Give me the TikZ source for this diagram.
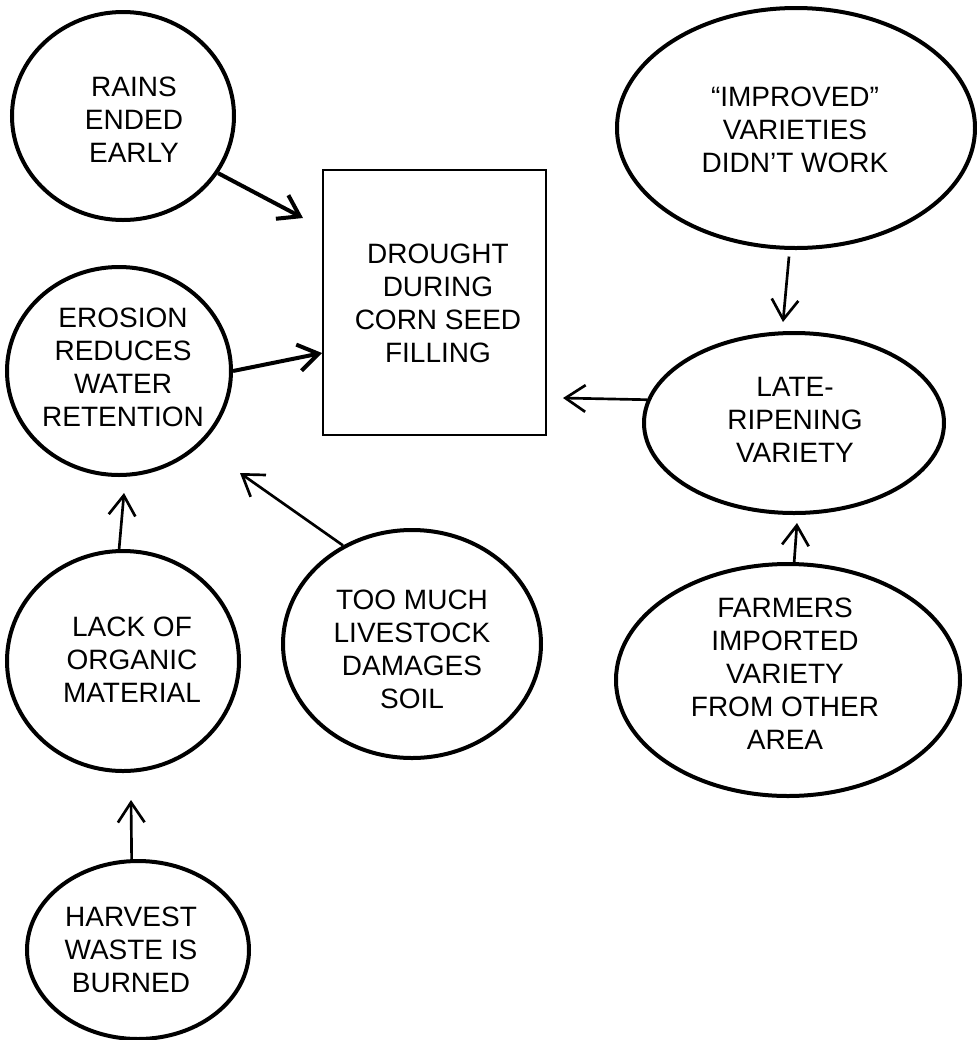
\documentclass[tikz,border=0pt]{standalone}
\usepackage{fontspec}
\setmainfont{Liberation Sans}
\usetikzlibrary{shapes.geometric,arrows.meta}
\tikzset{
  bubble/.style 2 args={ellipse, draw, line width=3pt, inner sep=0pt,
    minimum width={1.5pt*#1}, minimum height={1.5pt*#2}},
  boxnode/.style={rectangle, draw, line width=2.2pt, inner sep=0pt},
  txt/.style={align=center, inner sep=0pt,
    font=\fontsize{21}{24.75}\selectfont},
  link/.style={-{Straight Barb[length=15pt,width=20pt]}, line width=2pt},
  thicklink/.style={-{Straight Barb[length=15pt,width=20pt]}, line width=3pt},
}
\begin{document}
\begin{tikzpicture}[x=0.75pt,y=-0.75pt]
\useasboundingbox (0,0) rectangle (977,1040);

% shapes
\node[bubble={111}{104}] (rains) at (123,116) {};
\node[bubble={112}{104}] (erosion) at (119,371) {};
\node[bubble={116}{110}] (lack) at (123,661) {};
\node[bubble={111}{89}] (harvest) at (138,950) {};
\node[bubble={129}{114}] (livestock) at (412,644) {};
\node[bubble={179}{120}] (improved) at (796,128) {};
\node[bubble={150}{90}] (late) at (794,423) {};
\node[bubble={172}{116}] (farmers) at (788,680) {};
\node[boxnode, minimum width=167.25pt, minimum height=198.75pt] (drought) at (434.5,302.5) {};

% texts
\node[txt] (rainsT) at (134,120) {RAINS\\ENDED\\EARLY};
\node[txt] (erosionT) at (123,367) {EROSION\\REDUCES\\WATER\\RETENTION};
\node[txt] (lackT) at (132,660) {LACK OF\\ORGANIC\\MATERIAL};
\node[txt] (harvestT) at (131,950) {HARVEST\\WASTE IS\\BURNED};
\node[txt] (livestockT) at (412,649) {TOO MUCH\\LIVESTOCK\\DAMAGES\\SOIL};
\node[txt] (improvedT) at (795,130) {“IMPROVED”\\VARIETIES\\DIDN’T WORK};
\node[txt] (lateT) at (795,420) {LATE-\\RIPENING\\VARIETY};
\node[txt] (farmersT) at (785,674) {FARMERS\\IMPORTED\\VARIETY\\FROM OTHER\\AREA};
\node[txt] (droughtT) at (438,303) {DROUGHT\\DURING\\CORN SEED\\FILLING};

% arrow tips
\coordinate (tipRains) at (303,218);
\coordinate (tipErosion) at (322,353);
\coordinate (tipLate) at (563,398);
\coordinate (tipImproved) at (783,322);
\coordinate (tipLack) at (124,493);
\coordinate (tipHarvest) at (131,800);
\coordinate (tipLivestock) at (240,473);
\coordinate (tipFarmers) at (797,523);

% connectors
\draw[thicklink] (rains.-31) -- (tipRains);
\draw[thicklink] (erosion.0) -- (tipErosion);
\draw[link] (late.171) -- (tipLate);
\draw[link, shorten <=5pt] (improved.-93) -- (tipImproved);
\draw[link] (lack.92) -- (tipLack);
\draw[link] (harvest.94) -- (tipHarvest);
\draw[link] (livestock.125) -- (tipLivestock);
\draw[link] (farmers.87) -- (tipFarmers);
\end{tikzpicture}
\end{document}
